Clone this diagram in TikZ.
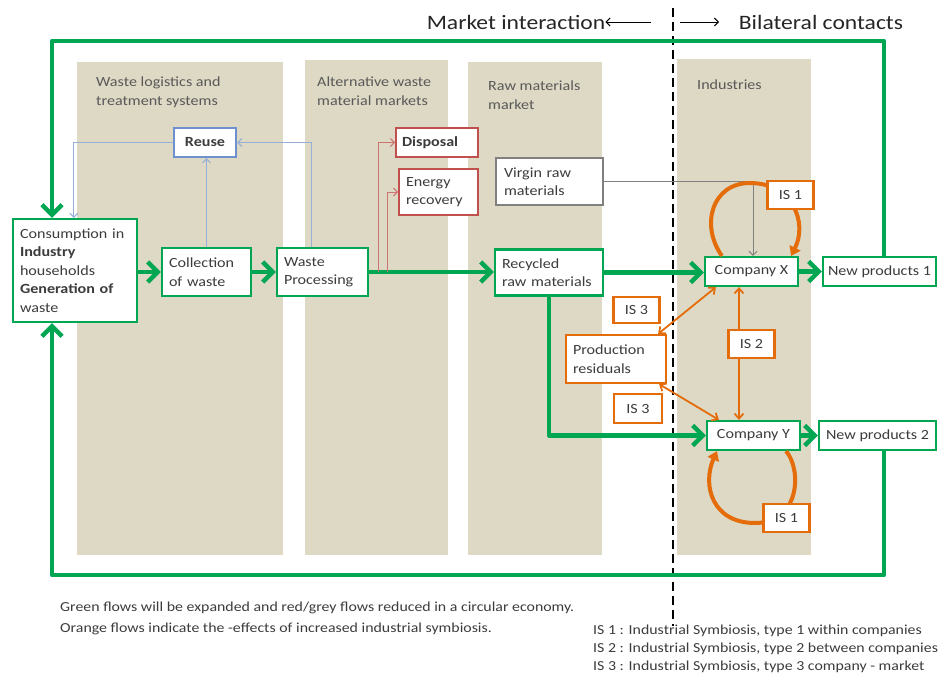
\documentclass[tikz,border=0pt]{standalone}
\usepackage{fontspec}
\setmainfont[FakeStretch=1.15]{Carlito}
\usetikzlibrary{arrows.meta,calc}
\definecolor{beige}{RGB}{221,217,196}
\definecolor{grn}{RGB}{0,166,81}
\definecolor{org}{RGB}{228,108,10}
\definecolor{rd}{RGB}{192,80,77}
\definecolor{blu}{RGB}{110,145,205}
\definecolor{bluln}{RGB}{150,175,215}
\definecolor{gry}{RGB}{128,128,128}
\definecolor{txt}{RGB}{60,60,60}
\begin{document}
\begin{tikzpicture}[x=1pt,y=-1pt,
 box/.style={draw,fill=white,line width=2.2pt,inner sep=0pt,align=left,text=txt,font=\fontsize{14}{18.5}\selectfont},
 gbox/.style={box,draw=grn},
 obox/.style={box,draw=org},
 rbox/.style={box,draw=rd,line width=2pt},
 isbox/.style={obox,align=center,minimum width=46,minimum height=28},
 garrow/.style={draw=grn,line width=4.5pt,line join=round,-{Straight Barb[length=10pt,width=20pt]}},
 thinarrow/.style={line width=1pt,-{Straight Barb[length=4pt,width=8pt]}},
 oloop/.style={draw=org,line width=4pt,-{Triangle[length=9pt,width=12pt]}},
 othin/.style={draw=org,line width=1.8pt,{Straight Barb[length=5pt,width=9pt]}-{Straight Barb[length=5pt,width=9pt]}},
 panel/.style={fill=beige,draw=none},
 plabel/.style={anchor=north west,inner sep=0pt,align=left,text=txt!85,font=\fontsize{14}{19}\selectfont},
 foot/.style={anchor=base west,inner sep=0pt,text=txt,font=\fontsize{13.8}{16}\selectfont},
 head/.style={inner sep=0pt,text=black!85,font=\fontsize{20.5}{24}\selectfont},
]
\useasboundingbox (0,0) rectangle (939,675);
% panels
\fill[panel] (77,62) rectangle (283,555);
\fill[panel] (305,60) rectangle (448,555);
\fill[panel] (468,62) rectangle (602,555);
\fill[panel] (677,59) rectangle (811,555);
\node[plabel] (pl1) at (96,77) {Waste logistics and\\treatment systems};
\node[plabel] (pl2) at (317,77) {Alternative waste\\material markets};
\node[plabel] (pl3) at (488,81) {Raw materials\\market};
\node[plabel] (pl4) at (697,80) {Industries};
% header
\node[head] (mi) at (516,22) {Market interaction};
\node[head] (bc) at (821,22) {Bilateral contacts};
\coordinate (mia) at (651,22);
\coordinate (bca) at (680,22);
\coordinate (bcb) at (719,22);
\draw[line width=1pt,-{Straight Barb[length=4pt,width=8pt]}] (mia) -- (mi.east);
\draw[line width=1pt,-{Straight Barb[length=4pt,width=8pt]}] (bca) -- (bcb);
\coordinate (dt) at (673,8);
\coordinate (db) at (673,626);
\draw[line width=1.8pt,dash pattern=on 9pt off 5pt] (dt) -- (db);
% boxes
\node[gbox,minimum width=124,minimum height=103,text width=110] (cons) at (75,270.5) {Consumption in\\\textbf{Industry}\\households\\\textbf{Generation of}\\waste};
\node[gbox,minimum width=89,minimum height=48,text width=75] (coll) at (206.5,272) {Collection\\of waste};
\node[gbox,minimum width=91,minimum height=48,text width=77] (wproc) at (322.5,272) {Waste\\Processing};
\node[box,draw=blu,minimum width=62,minimum height=29,align=center,font=\fontsize{14}{18}\selectfont\bfseries] (reuse) at (205,142.5) {Reuse};
\node[rbox,minimum width=82,minimum height=29,text width=70,font=\fontsize{14}{18}\selectfont\bfseries] (disp) at (437,142.5) {Disposal};
\node[rbox,minimum width=79,minimum height=46,text width=65] (energy) at (438.5,192) {Energy\\recovery};
\node[box,draw=gry,minimum width=107,minimum height=47,text width=91] (virgin) at (549.5,181.5) {Virgin raw\\materials};
\node[gbox,minimum width=108,minimum height=46,text width=94] (recyc) at (549,272.5) {Recycled\\raw materials};
\node[gbox,minimum width=93,minimum height=29,align=center] (compX) at (751.5,271.5) {Company X};
\node[gbox,minimum width=113,minimum height=29,align=center] (np1) at (879.5,271.5) {New products 1};
\node[gbox,minimum width=93,minimum height=29,align=center] (compY) at (753.5,435.5) {Company Y};
\node[gbox,minimum width=117,minimum height=29,align=center] (np2) at (877.5,435.5) {New products 2};
\node[obox,minimum width=100,minimum height=48,text width=86] (prod) at (616,359) {Production\\residuals};
% green loops
\coordinate (tr) at (884,41);
\coordinate (tl) at (52,41);
\coordinate (br) at (884,575);
\coordinate (bl) at (52,575);
\draw[garrow] (np1.north -| tr) -- (tr) -- (tl) -- (cons.north -| tl);
\draw[garrow] (np2.south -| br) -- (br) -- (bl) -- (cons.south -| bl);
% green flows
\draw[garrow] (cons.east |- coll.west) -- (coll.west);
\draw[garrow] (coll) -- (wproc);
\draw[garrow] (wproc.east) -- (recyc.west |- wproc.east);
\draw[garrow] (recyc.east) -- (compX.west |- recyc.east);
\draw[garrow] (recyc.south) |- (compY.west);
\draw[garrow] (compX) -- (np1);
\draw[garrow] (compY) -- (np2);
% blue
\draw[thinarrow,draw=bluln] (reuse.west) -| ($(cons.north west)+(62,0)$);
\draw[thinarrow,draw=bluln] (coll.north) -- (coll.north |- reuse.south);
\draw[thinarrow,draw=bluln] ($(wproc.north west)+(36,0)$) |- (reuse.east);
% red
\draw[thinarrow,draw=rd!80!white] ($(wproc.east)+(9,0)$) |- (disp.west);
\draw[thinarrow,draw=rd!80!white] ($(wproc.east)+(18,0)$) |- (energy.west);
% grey
\draw[thinarrow,draw=gry] (virgin.east) -| ($(compX.north)+(1.5,0)$);
% orange
\draw[othin] ($(prod.north east)+(-9,0)$) -- ($(compX.south west)+(12,0)$);
\draw[othin] ($(prod.south east)+(-8,0)$) -- ($(compY.north west)+(13,0)$);
\draw[othin] ($(compX.south)+(-12.5,0)$) -- ($(compY.north)+(-14.5,0)$);
\draw[oloop] ($(compX.north west)+(18,0)$) .. controls (700,225) and (712,183) .. (750,183) .. controls (792,183) and (808,222) .. ($(compX.north east)+(-8,0)$);
\draw[oloop] ($(compY.south east)+(-15,0)$) .. controls (802,470) and (800,523) .. (755,523) .. controls (712,523) and (702,485) .. ($(compY.south west)+(11,0)$);
\node[isbox] (is1a) at (790.5,195) {IS 1};
\node[isbox,minimum height=26] (is3a) at (636.5,310) {IS 3};
\node[isbox] (is2) at (751.5,344) {IS 2};
\node[isbox,minimum width=48,minimum height=29] (is3b) at (638,408.5) {IS 3};
\node[isbox] (is1b) at (786.5,518) {IS 1};
% footer
\node[foot] (f1) at (60,611) {Green flows will be expanded and red/grey flows reduced in a circular economy.};
\node[foot] (f2) at (60,632) {Orange flows indicate the -effects of increased industrial symbiosis.};
\node[foot] (f3) at (593,634) {IS 1 : Industrial Symbiosis, type 1 within companies};
\node[foot] (f4) at (593,652) {IS 2 : Industrial Symbiosis, type 2 between companies};
\node[foot] (f5) at (593,670) {IS 3 : Industrial Symbiosis, type 3 company - market};
\end{tikzpicture}
\end{document}
